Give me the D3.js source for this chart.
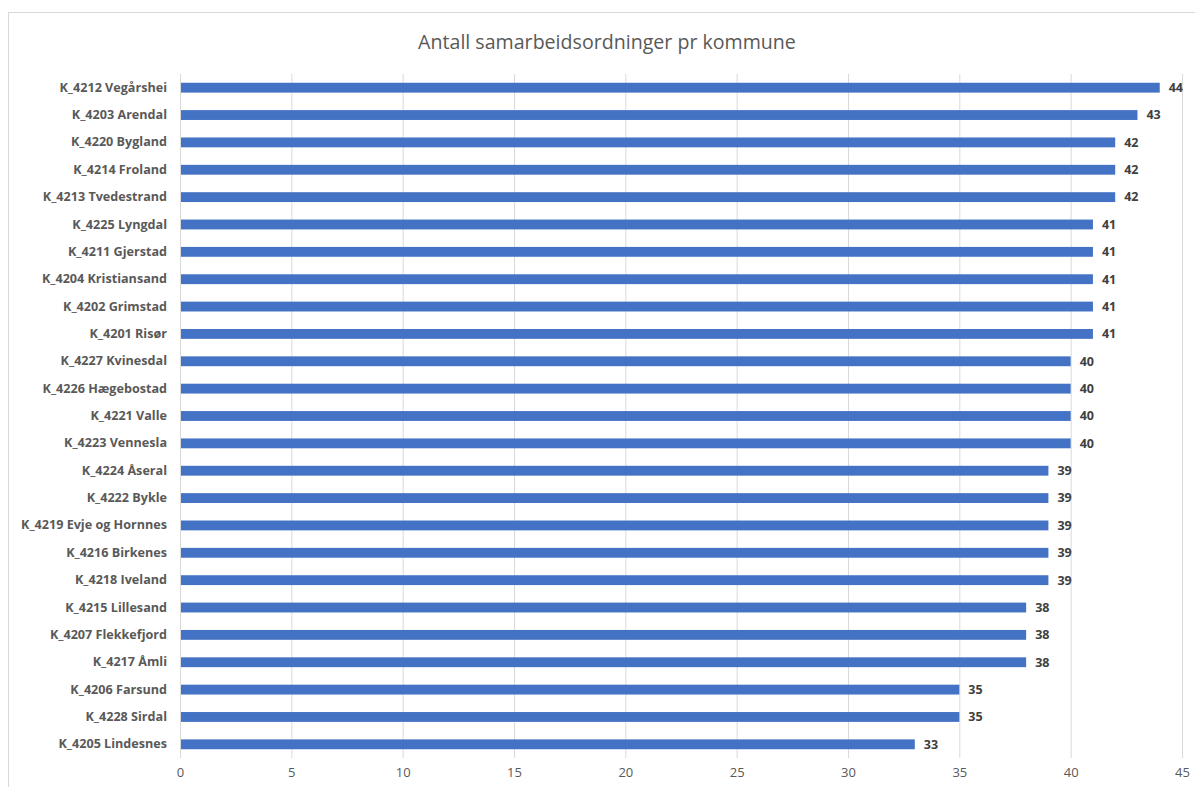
<!DOCTYPE html>
<html>
<head>
<meta charset="utf-8">
<script src="https://cdn.jsdelivr.net/npm/d3@7"></script>
<style>
  body { margin: 0; background: #fff; }
  svg { display: block; font-family: "Open Sans", Lato, sans-serif; }
</style>
</head>
<body>
<svg id="chart"></svg>
<script>
// kommuner, top to bottom
const kommuner = [
  "K_4212 Vegårshei", "K_4203 Arendal", "K_4220 Bygland", "K_4214 Froland",
  "K_4213 Tvedestrand", "K_4225 Lyngdal", "K_4211 Gjerstad", "K_4204 Kristiansand",
  "K_4202 Grimstad", "K_4201 Risør", "K_4227 Kvinesdal", "K_4226 Hægebostad",
  "K_4221 Valle", "K_4223 Vennesla", "K_4224 Åseral", "K_4222 Bykle",
  "K_4219 Evje og Hornnes", "K_4216 Birkenes", "K_4218 Iveland", "K_4215 Lillesand",
  "K_4207 Flekkefjord", "K_4217 Åmli", "K_4206 Farsund", "K_4228 Sirdal",
  "K_4205 Lindesnes"
];
const antall = [44, 43, 42, 42, 42, 41, 41, 41, 41, 41, 40, 40, 40, 40, 39, 39, 39, 39, 39, 38, 38, 38, 35, 35, 33];
const xTicks = [0, 5, 10, 15, 20, 25, 30, 35, 40, 45];
const title = "Antall samarbeidsordninger pr kommune";

const W = 1195, H = 787;
const svg = d3.select("#chart").attr("width", W).attr("height", H);

// chart frame
svg.append("rect")
  .attr("x", 8.5).attr("y", 12.5)
  .attr("width", 1200).attr("height", 800)
  .attr("fill", "#fff").attr("stroke", "#d9d9d9");

const plotL = 180, plotR = 1182, plotT = 74, plotB = 758;

const x = d3.scaleLinear().domain([0, 45]).range([plotL, plotR]);
const y = d3.scaleBand().domain(kommuner).range([plotT, plotB]).paddingInner(0.64).paddingOuter(0.32);

// gridlines
svg.append("g")
  .selectAll("line")
  .data(xTicks)
  .join("line")
  .attr("x1", d => x(d) + 0.5).attr("x2", d => x(d) + 0.5)
  .attr("y1", plotT).attr("y2", plotB)
  .attr("stroke", "#d9d9d9");

// bars
svg.append("g")
  .selectAll("rect")
  .data(kommuner)
  .join("rect")
  .attr("x", x(0) + 1)
  .attr("y", d => y(d))
  .attr("width", (d, i) => x(antall[i]) - x(0) - 1)
  .attr("height", y.bandwidth())
  .attr("fill", "#4472c4");

// value labels
svg.append("g")
  .selectAll("text")
  .data(kommuner)
  .join("text")
  .attr("x", (d, i) => x(antall[i]) + 9)
  .attr("y", d => y(d) + y.bandwidth() / 2)
  .attr("dy", "0.35em")
  .attr("font-size", 12.5)
  .attr("font-weight", "bold")
  .attr("fill", "#404040")
  .text((d, i) => antall[i]);

// category labels
const yAxis = svg.append("g")
  .attr("transform", `translate(${plotL - 13},0)`)
  .call(d3.axisLeft(y).tickSize(0).tickPadding(0));
yAxis.select(".domain").remove();
yAxis.selectAll("text")
  .attr("font-family", "'Open Sans', sans-serif")
  .attr("font-size", 12.6)
  .attr("font-weight", "bold")
  .attr("fill", "#595959");

// x axis labels
const xAxis = svg.append("g")
  .attr("transform", `translate(0,${plotB + 10})`)
  .call(d3.axisBottom(x).tickValues(xTicks).tickSize(0).tickPadding(0));
xAxis.select(".domain").remove();
xAxis.selectAll("text")
  .attr("font-family", "'Open Sans', sans-serif")
  .attr("font-size", 13)
  .attr("fill", "#595959");

// title
svg.append("text")
  .attr("x", 607).attr("y", 49)
  .attr("text-anchor", "middle")
  .attr("font-size", 19.6)
  .attr("fill", "#595959")
  .text(title);
</script>
</body>
</html>
